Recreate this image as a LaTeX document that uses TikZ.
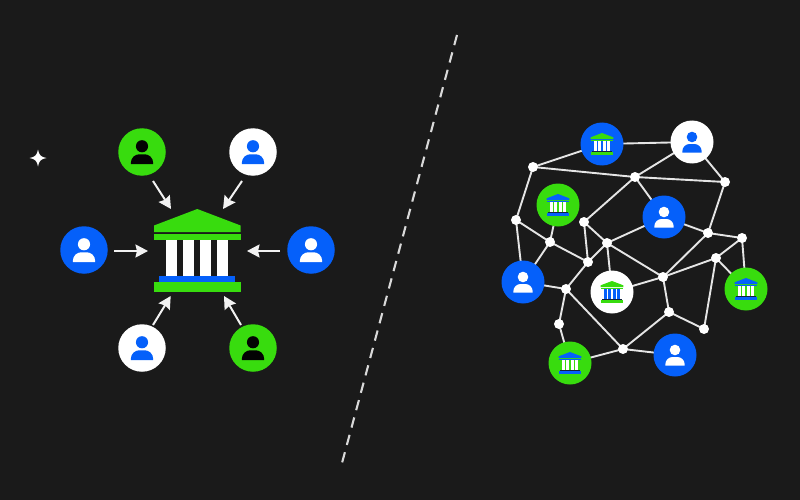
\documentclass[tikz,border=0pt]{standalone}
\usetikzlibrary{arrows.meta,backgrounds}
\definecolor{bgc}{HTML}{1A1A1A}
\definecolor{blu}{HTML}{0560FA}
\definecolor{grn}{HTML}{38DC0E}
\definecolor{wht}{HTML}{FFFFFF}
\definecolor{strip}{HTML}{12233F}
\tikzset{
  big/.style={circle,inner sep=0pt,minimum size=47.5pt,fill=#1},
  mid/.style={circle,inner sep=0pt,minimum size=43pt,fill=#1},
  dot/.style={circle,inner sep=0pt,minimum size=10pt,fill=white},
  link/.style={draw=white!90!black,line width=1.9pt},
  inarrow/.style={draw=white!95!black,line width=2pt,-{Stealth[length=12.5pt,width=13pt,inset=1.5pt]}},
  hidden/.style={inner sep=0pt,minimum size=0pt}
}
% \personicon{node}{scale}{colour}
\newcommand{\personicon}[3]{%
  \begin{scope}[shift={(#1.center)},scale=#2]
    \fill[#3] (0,-5) circle (5.3);
    \fill[#3] (-9.7,10.5) -- (-9.7,9.5) .. controls (-9.7,5) and (-6,2) .. (-2.5,2) -- (2.5,2)
       .. controls (6,2) and (9.7,5) .. (9.7,9.5) -- (9.7,10.5) -- cycle;
  \end{scope}}
% \bankicon{node}{scale}{roof and base}{columns}{strip}
\newcommand{\bankicon}[5]{%
  \begin{scope}[shift={(#1.center)},scale=#2]
    \fill[#3] (0,-41.5) -- (43.3,-25) -- (43.3,-18.5) -- (-43.3,-18.5) -- (-43.3,-25) -- cycle;
    \fill[#3] (-43.3,-16.8) rectangle (43.3,-10.5);
    \foreach \cx in {-25.5,-8.5,8.5,25.5}
      \fill[#4] (\cx-5.6,-10.5) rectangle (\cx+5.6,25.5);
    \fill[#5] (-38,25.5) rectangle (38,31.2);
    \fill[#3] (-43.3,31.8) rectangle (43.3,41.2);
  \end{scope}}
\begin{document}
\begin{tikzpicture}[x=1pt,y=-1pt]
\useasboundingbox (0,0) rectangle (800,500);
\begin{scope}[on background layer]
  \fill[bgc] (0,0) rectangle (800,500);
\end{scope}

% --- left: central institution
\node[hidden,minimum width=87pt,minimum height=83pt] (bank) at (197.3,250.5) {};
\bankicon{bank}{1}{grn}{wht}{blu}
\node[big=grn] (la) at (142,152) {};
\node[big=wht] (lb) at (253,152) {};
\node[big=blu] (lc) at (84,250) {};
\node[big=blu] (ld) at (311,250) {};
\node[big=wht] (le) at (142,348) {};
\node[big=grn] (lf) at (253,348) {};
\personicon{la}{1.15}{black!90!bgc}
\personicon{lb}{1.15}{blu}
\personicon{lc}{1.15}{wht}
\personicon{ld}{1.15}{wht}
\personicon{le}{1.15}{blu}
\personicon{lf}{1.15}{black!90!bgc}
\coordinate (a1s) at (153,181); \coordinate (a1e) at (171,209);
\coordinate (a2s) at (242,181); \coordinate (a2e) at (223,209);
\coordinate (a3s) at (114,251); \coordinate (a3e) at (148,251);
\coordinate (a4s) at (280,251); \coordinate (a4e) at (247,251);
\coordinate (a5s) at (153,325); \coordinate (a5e) at (170.7,296);
\coordinate (a6s) at (241,325); \coordinate (a6e) at (224,296);
\draw[inarrow] (a1s) -- (a1e);
\draw[inarrow] (a2s) -- (a2e);
\draw[inarrow] (a3s) -- (a3e);
\draw[inarrow] (a4s) -- (a4e);
\draw[inarrow] (a5s) -- (a5e);
\draw[inarrow] (a6s) -- (a6e);

% --- sparkle
\fill[white] (38,149.5) .. controls (38.9,155) and (41,157.1) .. (46.5,158)
  .. controls (41,158.9) and (38.9,161) .. (38,166.5)
  .. controls (37.1,161) and (35,158.9) .. (29.5,158)
  .. controls (35,157.1) and (37.1,155) .. (38,149.5) -- cycle;

% --- divider
\coordinate (dtop) at (457,35);
\coordinate (dbot) at (342,463);
\draw[white!85!black,line width=2.1pt,dash pattern=on 10.5pt off 7.5pt] (dtop) -- (dbot);

% --- right: network
\node[mid=blu] (b1) at (602,144) {};
\node[mid=wht] (u1) at (692,142) {};
\node[mid=grn] (b2) at (558,205) {};
\node[mid=blu] (u2) at (664,217) {};
\node[mid=blu] (u3) at (523,282) {};
\node[mid=wht] (b3) at (612,292) {};
\node[mid=grn] (b4) at (746,289) {};
\node[mid=grn] (b5) at (570,363) {};
\node[mid=blu] (u4) at (675,355) {};
\bankicon{b1}{0.265}{grn}{wht}{strip}
\bankicon{b2}{0.265}{blu}{wht}{strip}
\bankicon{b3}{0.265}{grn}{blu}{strip}
\bankicon{b4}{0.265}{blu}{wht}{strip}
\bankicon{b5}{0.265}{blu}{wht}{strip}
\personicon{u1}{1}{blu}
\personicon{u2}{1}{wht}
\personicon{u3}{1}{wht}
\personicon{u4}{1}{wht}
\foreach \n/\x/\y in {a/533/167,b/516/220,c/550/242,d/584/222,e/607/243,f/635/177,
  g/725/182,h/708/233,i/742/238,j/716/258,k/663/277,l/669/312,m/704/329,
  n/566/289,o/559/324,p/623/349,q/588/262}
  \node[dot] (\n) at (\x,\y) {};
\begin{scope}[on background layer]
\foreach \s/\t in {a/b1,a/b,a/f,b1/u1,u1/f,u1/g,f/g,f/u2,f/d,b/c,b/u3,c/b2,c/u3,c/q,
  d/q,d/e,e/u2,e/q,e/k,e/b3,q/n,n/u3,n/o,o/b5,n/p,p/b5,p/u4,p/l,b3/k,k/l,k/h,k/j,
  l/m,m/j,j/i,j/b4,i/b4,h/i,h/g,h/u2}
  \draw[link] (\s.center) -- (\t.center);
\end{scope}
\end{tikzpicture}
\end{document}
